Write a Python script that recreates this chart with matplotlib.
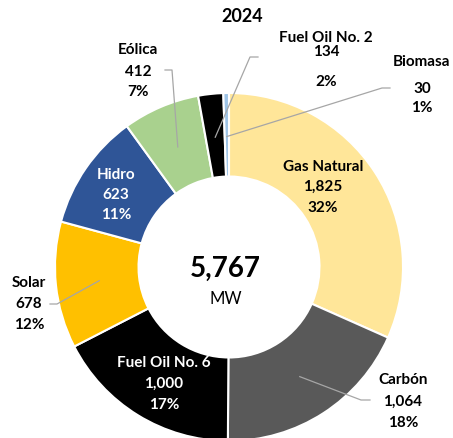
import numpy as np
import matplotlib
matplotlib.use('Agg')
import matplotlib.pyplot as plt

plt.rcParams['font.family'] = ['Lato', 'DejaVu Sans']

# data
fuentes = ['Gas Natural', 'Carbón', 'Fuel Oil No. 6', 'Solar', 'Hidro', 'Eólica', 'Fuel Oil No. 2', 'Biomasa']
mw = [1825, 1064, 1000, 678, 623, 412, 134, 30]
pct = ['32%', '18%', '17%', '12%', '11%', '7%', '2%', '1%']
colores = ['#FFE699', '#595959', '#000000', '#FFC000', '#2F5597', '#A9D18E', '#000000', '#9DC3E6']
total = '5,767'
anio = '2024'

# label placement in reference pixels: x of text, y of each of the three lines,
# text colour, leader start and elbow length (px)
etiquetas = {
    'Gas Natural':    (323, (167, 187, 208), 'black', None),
    'Carbón':         (403, (380, 402, 423), 'black', ((370, 400), -9)),
    'Fuel Oil No. 6': (164, (363, 384, 405), 'white', None),
    'Solar':          (29, (283, 304, 325), 'black', ((50, 304), 7)),
    'Hidro':          (116, (175, 195, 215), 'white', None),
    'Eólica':         (138, (50, 72, 92), 'black', ((165, 70), 7)),
    'Fuel Oil No. 2': (326, (38, 52, 82), 'black', ((258, 57), -8)),
    'Biomasa':        (422, (62, 89, 108), 'black', ((390, 88), -8)),
}

W, H = 453, 438
cx, cy, R = 229, 267, 174

fig = plt.figure(figsize=(W / 100, H / 100), dpi=100)
ax = fig.add_axes([0, 0, 1, 1])
ax.axis('off')

wedges, _ = ax.pie(mw, colors=colores, startangle=90, counterclock=False, radius=1,
                   wedgeprops=dict(width=0.48, edgecolor='white', linewidth=1.5))
ax.set_xlim(-cx / R, (W - cx) / R)
ax.set_ylim(-(H - cy) / R, cy / R)
ax.set_aspect('auto')


def px(x, y):
    return (x - cx) / R, (cy - y) / R


for w, nombre, v, p in zip(wedges, fuentes, mw, pct):
    x, ys, col, lead = etiquetas[nombre]
    for s, y in zip([nombre, f'{v:,}', p], ys):
        ax.text(*px(x, y), s, ha='center', va='center', fontsize=11, fontweight='bold',
                color=col)
    if lead is not None:
        (lx, ly), d = lead
        ang = np.deg2rad((w.theta1 + w.theta2) / 2)
        ex, ey = 0.75 * np.cos(ang), 0.75 * np.sin(ang)
        sx, sy = px(lx, ly)
        ax.plot([sx, sx + d / R, ex], [sy, sy, ey], color='#A6A6A6', lw=0.9)

ax.text(*px(242, 17), anio, ha='center', va='center', fontsize=13, fontweight='bold')
ax.text(*px(225, 269), total, ha='center', va='center', fontsize=20, fontweight='bold')
ax.text(*px(226, 299), 'MW', ha='center', va='center', fontsize=12)

fig.savefig('out.png', dpi=100)
